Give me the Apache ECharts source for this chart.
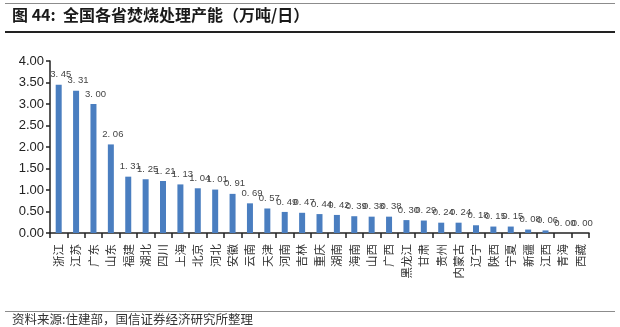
<!DOCTYPE html>
<html>
<head>
<meta charset="utf-8">
<script src="https://cdn.jsdelivr.net/npm/echarts@6/dist/echarts.min.js"></script>
<style>
  html, body { margin: 0; padding: 0; background: #fff; }
  #chart { width: 620px; height: 327px; }
</style>
</head>
<body>
<div id="chart"></div>
<script>
// 各省焚烧处理产能（万吨/日）
const provinces = ['浙江', '江苏', '广东', '山东', '福建', '湖北', '四川', '上海', '北京', '河北',
  '安徽', '云南', '天津', '河南', '吉林', '重庆', '湖南', '海南', '山西', '广西',
  '黑龙江', '甘肃', '贵州', '内蒙古', '辽宁', '陕西', '宁夏', '新疆', '江西', '青海', '西藏'];
const capacity = [3.45, 3.31, 3.00, 2.06, 1.31, 1.25, 1.21, 1.13, 1.04, 1.01,
  0.91, 0.69, 0.57, 0.49, 0.47, 0.44, 0.42, 0.39, 0.38, 0.38,
  0.30, 0.29, 0.24, 0.24, 0.18, 0.15, 0.15, 0.08, 0.06, 0.00, 0.00];
const yTicks = [0, 0.5, 1, 1.5, 2, 2.5, 3, 3.5, 4];

const titleText = '图 44:  全国各省焚烧处理产能（万吨/日）';
const sourceText = '资料来源:住建部，国信证券经济研究所整理';

const chart = echarts.init(document.getElementById('chart'), null, { renderer: 'canvas' });

chart.setOption({
  animation: false,
  backgroundColor: '#fff',
  grid: { left: 50, right: 31, top: 61, bottom: 94, containLabel: false },
  graphic: [
    { type: 'line', shape: { x1: 5, y1: 3.5, x2: 615, y2: 3.5 }, style: { stroke: '#8c8c8c', lineWidth: 1 } },
    { type: 'text', left: 12, top: 7, style: { text: titleText, font: 'bold 16px "Noto Sans CJK SC", sans-serif', fill: '#1a1a1a' } },
    { type: 'line', shape: { x1: 5, y1: 32, x2: 615, y2: 32 }, style: { stroke: '#222', lineWidth: 2 } },
    { type: 'line', shape: { x1: 5, y1: 311.5, x2: 615, y2: 311.5 }, style: { stroke: '#8c8c8c', lineWidth: 1 } },
    { type: 'text', left: 12, top: 313, style: { text: sourceText, font: '12.5px "Noto Sans CJK SC", sans-serif', fill: '#333' } }
  ],
  xAxis: {
    type: 'category',
    data: provinces,
    boundaryGap: true,
    axisLine: { show: true, lineStyle: { color: '#222', width: 1.5 } },
    axisTick: { show: true, alignWithLabel: false, length: 5, lineStyle: { color: '#222', width: 1.5 } },
    axisLabel: {
      interval: 0,
      rotate: 90,
      margin: 11,
      color: '#333',
      fontSize: 11.5,
      fontFamily: '"Noto Sans CJK SC", sans-serif'
    }
  },
  yAxis: {
    type: 'value',
    min: 0,
    max: yTicks[yTicks.length - 1],
    interval: yTicks[1] - yTicks[0],
    splitLine: { show: false },
    axisLine: { show: true, lineStyle: { color: '#222', width: 1.5 } },
    axisTick: { show: true, length: 4, lineStyle: { color: '#222', width: 1.5 } },
    axisLabel: {
      margin: 6,
      color: '#222',
      fontSize: 13,
      fontFamily: '"Liberation Sans", Arial, sans-serif',
      formatter: (v) => v.toFixed(2)
    }
  },
  series: [{
    type: 'bar',
    data: capacity,
    barWidth: 6,
    itemStyle: { color: '#4a7ec0' },
    label: {
      show: true,
      position: 'top',
      distance: 5,
      offset: [2, 0],
      color: '#444',
      fontSize: 9.5,
      fontFamily: '"Liberation Sans", Arial, sans-serif',
      formatter: (p) => p.value.toFixed(2).replace('.', '. ')
    }
  }]
});
</script>
</body>
</html>
